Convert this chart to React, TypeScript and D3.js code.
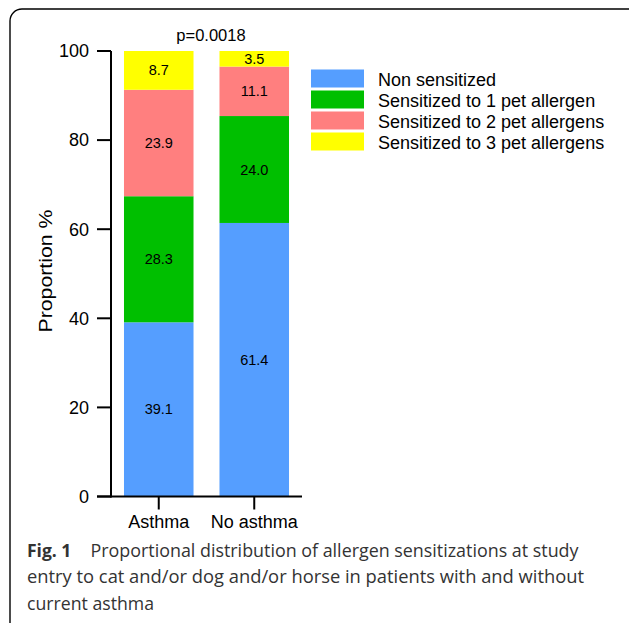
import React from "react";
import * as d3 from "d3";

const categories = ["Asthma", "No asthma"];
const seriesNames = [
  "Non sensitized",
  "Sensitized to 1 pet allergen",
  "Sensitized to 2 pet allergens",
  "Sensitized to 3 pet allergens",
];
const nonSensitized = [39.1, 61.4];
const oneAllergen = [28.3, 24.0];
const twoAllergens = [23.9, 11.1];
const threeAllergens = [8.7, 3.5];
const yTicks = [0, 20, 40, 60, 80, 100];
const pValueText = "p=0.0018";
const yTitle = "Proportion %";
const captionBold = "Fig. 1";
const captionLines = [
  "Proportional distribution of allergen sensitizations at study",
  "entry to cat and/or dog and/or horse in patients with and without",
  "current asthma",
];

const colors = ["#559EFF", "#00BF00", "#FF7F7F", "#FFFF00"];

export default function App() {
  const series = [nonSensitized, oneAllergen, twoAllergens, threeAllergens];
  const rows = categories.map((c, i) => {
    const r: any = { cat: c };
    seriesNames.forEach((s, j) => (r[s] = series[j][i]));
    return r;
  });
  const stacked = d3.stack().keys(seriesNames)(rows);

  const x = d3
    .scaleBand()
    .domain(categories)
    .range([111, 302])
    .paddingInner(0.272)
    .paddingOuter(0.136);
  const y = d3.scaleLinear().domain([0, 100]).range([496.5, 51]);

  const font = "'Liberation Sans', Arial, Helvetica, sans-serif";
  const capFont = "'Open Sans', 'Noto Sans', sans-serif";

  return (
    <div style={{ position: "absolute", left: 0, top: 0 }}>
      <svg width={629} height={623} style={{ display: "block" }}>
        <rect x={0} y={0} width={629} height={623} fill="#fff" />
        {/* frame */}
        <path
          d="M10,624 L10,21 A12,12 0 0 1 22,9 L630,9"
          fill="none"
          stroke="#000"
          strokeWidth={1.4}
        />
        {/* bars */}
        {stacked.map((layer, j) => (
          <g key={j}>
            {layer.map((d: any, i) => (
              <rect
                key={i}
                x={x(categories[i])}
                width={x.bandwidth()}
                y={y(d[1])}
                height={y(d[0]) - y(d[1])}
                fill={colors[j]}
              />
            ))}
          </g>
        ))}
        {/* bar labels */}
        {stacked.map((layer, j) => (
          <g key={"l" + j}>
            {layer.map((d: any, i) => (
              <text
                key={i}
                x={(x(categories[i]) as number) + x.bandwidth() / 2}
                y={y((d[0] + d[1]) / 2)}
                dy="0.35em"
                textAnchor="middle"
                fontFamily={font}
                fontSize={14.5}
                fill="#000"
              >
                {series[j][i].toFixed(1)}
              </text>
            ))}
          </g>
        ))}
        {/* y axis */}
        <line x1={111} x2={111} y1={y(100)} y2={y(0) + 1} stroke="#000" strokeWidth={2} />
        {yTicks.map((t) => (
          <g key={t}>
            <line x1={97} x2={111} y1={y(t)} y2={y(t)} stroke="#000" strokeWidth={2} />
            <text
              x={89}
              y={y(t)}
              dy="0.35em"
              textAnchor="end"
              fontFamily={font}
              fontSize={18}
              fill="#000"
            >
              {t}
            </text>
          </g>
        ))}
        {/* x axis */}
        <line x1={97} x2={302} y1={y(0)} y2={y(0)} stroke="#000" strokeWidth={2} />
        {categories.map((c) => {
          const cx = (x(c) as number) + x.bandwidth() / 2;
          return (
            <g key={c}>
              <line x1={cx} x2={cx} y1={y(0)} y2={y(0) + 13} stroke="#000" strokeWidth={2} />
              <text
                x={cx}
                y={528}
                textAnchor="middle"
                fontFamily={font}
                fontSize={18}
                fill="#000"
              >
                {c}
              </text>
            </g>
          );
        })}
        {/* y title */}
        <text
          transform="translate(52,271) rotate(-90)"
          textAnchor="middle"
          fontFamily={font}
          fontSize={18}
          textLength={123}
          lengthAdjust="spacingAndGlyphs"
          fill="#000"
        >
          {yTitle}
        </text>
        {/* p value */}
        <text
          x={211}
          y={41}
          textAnchor="middle"
          fontFamily={font}
          fontSize={16.5}
          fill="#000"
        >
          {pValueText}
        </text>
        {/* legend */}
        {seriesNames.map((s, j) => (
          <g key={s} transform={`translate(311,${69.5 + j * 21})`}>
            <rect x={0} y={0} width={53} height={18} fill={colors[j]} />
            <text x={67} y={16} fontFamily={font} fontSize={18} fill="#000">
              {s}
            </text>
          </g>
        ))}
        {/* caption */}
        <text x={27} y={556.5} fontFamily={capFont} fontSize={17.5} fill="#333">
          <tspan fontWeight="bold">{captionBold}</tspan>
        </text>
        <text
          x={90.5}
          y={556.5}
          fontFamily={capFont}
          fontSize={17.5}
          fill="#333"
          textLength={488}
          lengthAdjust="spacingAndGlyphs"
        >
          {captionLines[0]}
        </text>
        <text
          x={27}
          y={583}
          fontFamily={capFont}
          fontSize={17.5}
          fill="#333"
          textLength={557}
          lengthAdjust="spacingAndGlyphs"
        >
          {captionLines[1]}
        </text>
        <text
          x={27}
          y={610}
          fontFamily={capFont}
          fontSize={17.5}
          fill="#333"
          textLength={127}
          lengthAdjust="spacingAndGlyphs"
        >
          {captionLines[2]}
        </text>
      </svg>
    </div>
  );
}
